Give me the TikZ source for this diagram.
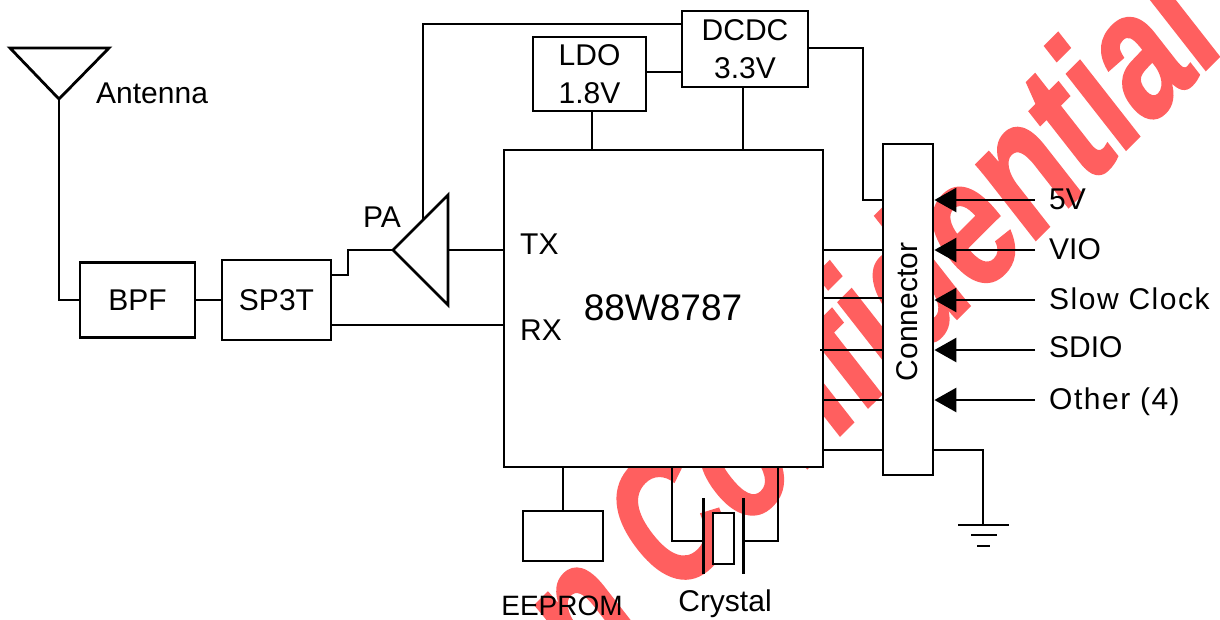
\documentclass[tikz,border=0pt]{standalone}
\usepackage{fontspec}
\setmainfont{Liberation Sans}
\usetikzlibrary{arrows.meta}
\definecolor{wm}{HTML}{FF5F5F}
\tikzset{
  x=1pt,y=-1pt,
  wire/.style={line width=2.8pt,line join=miter,line cap=butt},
  box/.style={draw,line width=2.8pt,fill=white,inner sep=0pt},
  lbl/.style={inner sep=0pt,font=\fontsize{30}{32}\selectfont},
  widelbl/.style={inner sep=0pt,font=\fontsize{30}{32}\selectfont\addfontfeatures{LetterSpace=5}},
  feed/.style={wire,-{Triangle[length=22pt,width=24pt]}},
  mark text/.style={inner sep=0pt,text=wm,font=\fontsize{168}{168}\selectfont\bfseries\addfontfeatures{FakeBold=1.5},transform shape,anchor=base west}
}
\begin{document}
\begin{tikzpicture}
\useasboundingbox (0,0) rectangle (1220,619);
\clip (0,0) rectangle (1220,619);
\fill[white] (0,0) rectangle (1220,619);
% watermark
\begin{scope}[shift={(588,687)},yscale=1.13,rotate=41.5,xscale=0.76]
\node[mark text] (wmark) at (0,0) {n Confidential};
\end{scope}
% blocks
\node[box,minimum width=319pt,minimum height=317pt] (chip) at (663.5,308.5) {};
\node[box,minimum width=50pt,minimum height=331pt] (conn) at (908,309.5) {};
\node[box,minimum width=126pt,minimum height=76pt,align=center,font=\fontsize{30}{38}\selectfont] (dcdc) at (745,49) {DCDC\\3.3V};
\node[box,minimum width=113pt,minimum height=74pt,align=center,font=\fontsize{30}{38}\selectfont] (ldo) at (589.5,74) {LDO\\1.8V};
\node[box,minimum width=115pt,minimum height=75pt,font=\fontsize{30}{32}\selectfont] (bpf) at (137.5,300) {BPF};
\node[box,minimum width=109pt,minimum height=80pt,font=\fontsize{30}{32}\selectfont] (sp3t) at (276.5,300) {SP3T};
\node[box,minimum width=80pt,minimum height=50pt] (eeprom) at (563,536) {};
\node[box,minimum width=21pt,minimum height=51pt] (xtal) at (723.5,538.5) {};
% labels
\node[lbl,rotate=90] (connlbl) at (907,312) {Connector};
\node[inner sep=0pt,font=\fontsize{37}{40}\selectfont] (chipname) at (663,308) {88W8787};
\node[lbl,anchor=west] (tx) at (520,244) {TX};
\node[lbl,anchor=west] (rx) at (520,330) {RX};
\node[lbl,anchor=west] (pa) at (363,217) {PA};
\node[lbl,anchor=west] (antlbl) at (96,93) {Antenna};
\node[lbl,anchor=west] (l5) at (1049,199) {5V};
\node[lbl,anchor=west] (lvio) at (1049,249) {VIO};
\node[widelbl,anchor=west] (lclk) at (1049,299) {Slow Clock};
\node[lbl,anchor=west] (lsdio) at (1049,347) {SDIO};
\node[widelbl,anchor=west] (loth) at (1049,402) {Other (4)};
\node[inner sep=0pt,font=\fontsize{28}{30}\selectfont] (leep) at (562,606) {EEPROM};
\node[lbl] (lxtal) at (725,604) {Crystal};
% antenna
\coordinate (anttip) at (59,99);
\coordinate (antl) at (10,48);
\coordinate (antr) at (109,48);
\draw[wire] (antl) -- (antr) -- (anttip) -- cycle;
\draw[wire] (anttip) |- (bpf.west);
\draw[wire] (bpf.east) -- (sp3t.west |- bpf.east);
% PA
\coordinate (patip) at (393,250);
\coordinate (patop) at (448,195);
\coordinate (pabot) at (448,305);
\coordinate (paout) at (448,250);
\draw[wire] (patip) -- (patop) -- (pabot) -- cycle;
\coordinate (swa) at (331,275);
\coordinate (swb) at (331,325);
\coordinate (sup) at (423,220);
\draw[wire] (swa) -- (348,275) -- (348,250) -- (patip);
\draw[wire] (paout) -- (chip.west |- paout);
\draw[wire] (swb) -- (chip.west |- swb);
\draw[wire] (sup) -- (423,24) -- (dcdc.west |- 0,24);
% power
\draw[wire] (ldo.east |- 0,72) -- (dcdc.west |- 0,72);
\draw[wire] (ldo.south -| 592,0) -- (chip.north -| 592,0);
\draw[wire] (dcdc.south -| 743,0) -- (chip.north -| 743,0);
\draw[wire] (dcdc.east |- 0,48) -- (863,48) -- (863,200) -- (conn.west |- 0,200);
% chip to connector
\draw[wire] (chip.east |- 0,250) -- (conn.west |- 0,250);
\draw[wire] (chip.east |- 0,298) -- (conn.west |- 0,298);
\draw[wire] (820,350) -- (conn.west |- 0,350);
\draw[wire] (chip.east |- 0,400) -- (conn.west |- 0,400);
\draw[wire] (chip.east |- 0,450) -- (conn.west |- 0,450);
% feeds
\coordinate (f5) at (1035,200);
\coordinate (fv) at (1035,250);
\coordinate (fc) at (1035,300);
\coordinate (fs) at (1035,350);
\coordinate (fo) at (1035,400);
\draw[feed] (f5) -- (conn.east |- f5);
\draw[feed] (fv) -- (conn.east |- fv);
\draw[feed] (fc) -- (conn.east |- fc);
\draw[feed] (fs) -- (conn.east |- fs);
\draw[feed] (fo) -- (conn.east |- fo);
% ground
\coordinate (gnd) at (983,525);
\draw[wire] (conn.east |- 0,450) -- (983,450) -- (gnd);
\draw[wire] (958,525) -- (1009,525);
\draw[wire] (971,535) -- (997,535);
\draw[wire] (977,546) -- (990,546);
% eeprom
\draw[wire] (chip.south -| eeprom.north) -- (eeprom.north);
% crystal
\coordinate (pl1t) at (703.5,498);
\coordinate (pl1b) at (703.5,574);
\coordinate (pl2t) at (743.5,498);
\coordinate (pl2b) at (743.5,574);
\draw[wire] (pl1t) -- (pl1b);
\draw[wire] (pl2t) -- (pl2b);
\draw[wire] (chip.south -| 672,0) -- (672,541) -- (703.5,541);
\draw[wire] (chip.south -| 778,0) -- (778,541) -- (743.5,541);
\end{tikzpicture}
\end{document}
